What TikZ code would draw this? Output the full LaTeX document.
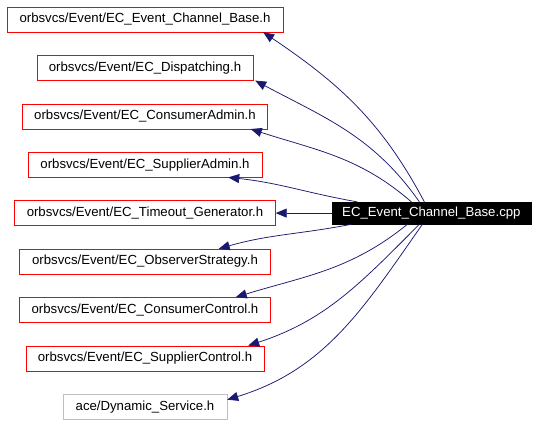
\documentclass[tikz,border=0pt]{standalone}
\usepackage{fontspec}
\setmainfont{Liberation Sans}
\usepackage{tikz}
\usetikzlibrary{positioning,arrows.meta}

\definecolor{edgeblue}{RGB}{25,25,112}
\definecolor{boxgray}{RGB}{191,191,191}

\begin{document}
\begin{tikzpicture}[x=1pt,y=1pt,node distance=23pt,
        every node/.style={rectangle, draw, minimum height=25pt, inner sep=2pt, font=\fontsize{13.2}{15}\selectfont},
        hdr/.style={draw=red},
        sys/.style={draw=boxgray},
        src/.style={fill=black, text=white, minimum height=22pt},
        dep/.style={edgeblue, line width=0.75pt, -{Triangle[length=11pt,width=9pt]}},]
    \useasboundingbox (0,0) rectangle (539,421);
    \node[hdr, minimum width=276pt] (h1) at (145,401.5) {orbsvcs/Event/EC\_Event\_Channel\_Base.h};
    \node[hdr, minimum width=216pt, below=of h1] (h2) {orbsvcs/Event/EC\_Dispatching.h};
    \node[hdr, minimum width=245pt, below=of h2] (h3) {orbsvcs/Event/EC\_ConsumerAdmin.h};
    \node[hdr, minimum width=234pt, below=of h3] (h4) {orbsvcs/Event/EC\_SupplierAdmin.h};
    \node[hdr, minimum width=261pt, below=of h4] (h5) {orbsvcs/Event/EC\_Timeout\_Generator.h};
    \node[hdr, minimum width=251pt, below=of h5] (h6) {orbsvcs/Event/EC\_ObserverStrategy.h};
    \node[hdr, minimum width=251pt, below=of h6] (h7) {orbsvcs/Event/EC\_ConsumerControl.h};
    \node[hdr, minimum width=238pt, below=of h7] (h8) {orbsvcs/Event/EC\_SupplierControl.h};
    \node[sys, minimum width=164pt, below=of h8] (h9) {ace/Dynamic\_Service.h};
    \node[src, minimum width=199pt, right=56pt of h5] (cpp) {EC\_Event\_Channel\_Base.cpp};
    % includes
    \draw[dep] ([xshift=-7pt]cpp.north) to[out=118,in=-34] ([xshift=-20pt]h1.south east);
    \draw[dep] ([xshift=-12pt]cpp.north) to[out=125,in=-28] ([xshift=2pt]h2.south east);
    \draw[dep] ([xshift=-20pt]cpp.north) to[out=139,in=-18] ([xshift=-17pt]h3.south east);
    \draw[dep] ([xshift=-74pt]cpp.north) to[out=170,in=-6] ([xshift=-34pt]h4.south east);
    \draw[dep] (cpp) -- (h5);
    \draw[dep] ([xshift=-80pt]cpp.south) to[out=191,in=16] ([xshift=-52pt]h6.north east);
    \draw[dep] ([xshift=-24pt]cpp.south) to[out=219,in=17] ([xshift=-35pt]h7.north east);
    \draw[dep] ([xshift=-12pt]cpp.south) to[out=225,in=18] ([xshift=-16pt]h8.north east);
    \draw[dep] ([xshift=-9pt]cpp.south) to[out=235,in=17] ([yshift=7pt]h9.east);
\end{tikzpicture}
\end{document}
